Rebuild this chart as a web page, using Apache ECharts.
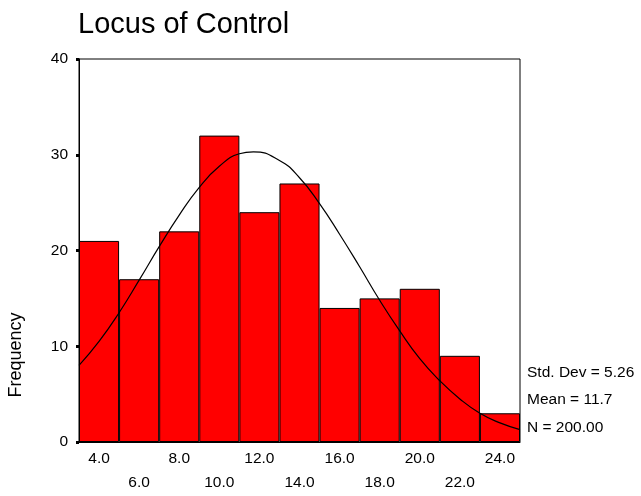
<!DOCTYPE html>
<html>
<head>
<meta charset="utf-8">
<script src="https://cdn.jsdelivr.net/npm/echarts@6/dist/echarts.min.js"></script>
<style>
  html, body { margin: 0; padding: 0; background: #fff; }
  #main { width: 641px; height: 496px; }
</style>
</head>
<body>
<div id="main"></div>
<script>
// histogram bins (centres) and counts
var binLabels = ['4.0', '6.0', '8.0', '10.0', '12.0', '14.0', '16.0', '18.0', '20.0', '22.0', '24.0'];
var counts = [21, 17, 22, 32, 24, 27, 14, 15, 16, 9, 3];

// normal curve
var curveX = [3, 4, 5, 6, 7, 8, 9, 10, 11, 11.7, 13, 14, 15, 16, 17, 18, 19, 20, 21, 22, 23, 24, 25];
var curveY = [8.0, 10.5, 13.5, 16.9, 20.4, 23.7, 26.6, 28.8, 30.1, 30.3, 29.4, 27.6, 24.9, 21.7, 18.3, 14.8, 11.6, 8.7, 6.4, 4.5, 3.0, 2.0, 1.3];

var statsText = ['Std. Dev = 5.26', 'Mean = 11.7', 'N = 200.00'];

var FONT = '"Liberation Sans", Arial, sans-serif';

var myChart = echarts.init(document.getElementById('main'));

var option = {
    animation: false,
    grid: {
        left: 79, right: 121, top: 59, bottom: 54,
        show: true, borderColor: '#000', borderWidth: 1
    },
    xAxis: [
        {
            type: 'category',
            data: binLabels,
            axisLine: { lineStyle: { color: '#000', width: 1 } },
            axisTick: { alignWithLabel: true, length: 3, lineStyle: { color: '#000', width: 4 } },
            axisLabel: {
                interval: 0,
                color: '#000',
                fontFamily: FONT,
                fontSize: 15.5,
                lineHeight: 24,
                margin: 5,
                verticalAlign: 'top',
                formatter: function (v, i) { return i % 2 === 0 ? v : '\n' + v; }
            }
        },
        {
            type: 'value',
            min: 3, max: 25,
            show: false
        }
    ],
    yAxis: {
        type: 'value',
        min: 0, max: 40, interval: 10,
        axisLine: { show: true, lineStyle: { color: '#000', width: 1 } },
        axisTick: { show: true, length: 3, lineStyle: { color: '#000', width: 3 } },
        splitLine: { show: false },
        axisLabel: { color: '#000', fontFamily: FONT, fontSize: 15.5, margin: 11 }
    },
    graphic: [
        { type: 'text', left: 78, top: 10, style: { text: 'Locus of Control', font: '29px ' + FONT, fill: '#000' } },
        { type: 'text', x: 16, y: 355, rotation: Math.PI / 2, style: { text: 'Frequency', font: '18px ' + FONT, fill: '#000', align: 'center', verticalAlign: 'middle' } },
        { type: 'text', x: 527, y: 372.5, style: { text: statsText[0], font: '15.5px ' + FONT, fill: '#000', verticalAlign: 'middle' } },
        { type: 'text', x: 527, y: 400, style: { text: statsText[1], font: '15.5px ' + FONT, fill: '#000', verticalAlign: 'middle' } },
        { type: 'text', x: 527, y: 428, style: { text: statsText[2], font: '15.5px ' + FONT, fill: '#000', verticalAlign: 'middle' } }
    ],
    series: [
        {
            type: 'bar',
            data: counts,
            barCategoryGap: '0%',
            itemStyle: { color: '#ff0000', borderColor: '#000', borderWidth: 1 }
        },
        {
            type: 'line',
            xAxisIndex: 1,
            data: curveX.map(function (x, i) { return [x, curveY[i]]; }),
            smooth: 0.5,
            symbol: 'none',
            lineStyle: { color: '#000', width: 1.2 },
            z: 5
        }
    ]
};

myChart.setOption(option);
</script>
</body>
</html>
